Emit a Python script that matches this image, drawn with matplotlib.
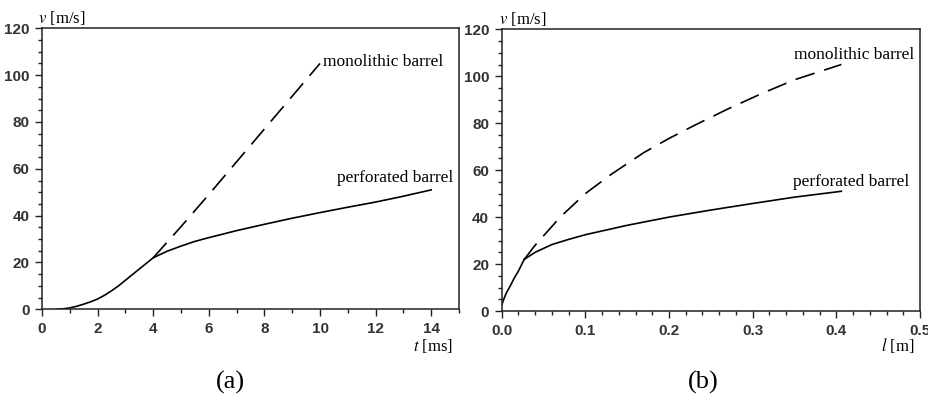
import matplotlib
matplotlib.use("Agg")
import matplotlib.pyplot as plt
from matplotlib.ticker import MultipleLocator, FormatStrFormatter

plt.rcParams["mathtext.fontset"] = "stix"

# ---- data ----
# (a) velocity vs time
t_common = [0.5, 0.75, 1.0, 1.25, 1.5, 1.75, 2.0, 2.25, 2.5, 2.75, 3.0, 3.25, 3.5, 3.75, 4.0]
v_common = [0.0, 0.2, 0.6, 1.3, 2.2, 3.2, 4.4, 6.0, 7.9, 10.0, 12.4, 14.8, 17.2, 19.6, 22.0]
t_mono = [4.0, 5.0, 6.0, 7.0, 8.0, 9.0, 10.0]
v_mono = [22.0, 35.3, 49.0, 63.0, 77.0, 91.0, 105.0]
t_perf = [4.0, 4.5, 5.0, 5.5, 6.0, 7.0, 8.0, 9.0, 10.0, 11.0, 12.0, 13.0, 14.0]
v_perf = [22.0, 24.8, 27.0, 29.0, 30.6, 33.6, 36.3, 38.9, 41.3, 43.6, 45.8, 48.3, 51.0]

# (b) velocity vs travel
l_common = [0.0, 0.003, 0.006, 0.01, 0.015, 0.02, 0.027]
w_common = [2.5, 5.5, 8.0, 10.5, 14.0, 17.0, 22.0]
l_mono = [0.027, 0.04, 0.05, 0.07, 0.1, 0.13, 0.17, 0.2, 0.23, 0.27, 0.31, 0.35, 0.406]
w_mono = [22.0, 28.0, 32.0, 40.0, 50.0, 58.0, 67.5, 73.5, 79.0, 86.0, 92.5, 98.5, 105.0]
l_perf = [0.027, 0.04, 0.06, 0.08, 0.1, 0.15, 0.2, 0.25, 0.3, 0.35, 0.406]
w_perf = [22.0, 25.0, 28.3, 30.5, 32.5, 36.5, 40.0, 43.0, 45.8, 48.5, 51.0]

TICK_FONT = "Liberation Sans"
SERIF = "Liberation Serif"

fig = plt.figure(figsize=(9.29, 3.97), dpi=100)
axa = fig.add_axes([0.0452, 0.2209, 0.4489, 0.7078])
axb = fig.add_axes([0.5400, 0.2166, 0.4503, 0.7096])

lw = 1.2
dash = (12, 6)

def style(ax):
    for s in ax.spines.values():
        s.set_linewidth(1.1)
        s.set_color("#222222")
    ax.tick_params(which="major", direction="out", length=5, width=1.0,
                   labelsize=11, pad=4, colors="#222222")
    ax.tick_params(which="minor", direction="out", length=3, width=1.0,
                   colors="#222222")
    for lab in ax.get_xticklabels() + ax.get_yticklabels():
        lab.set_fontfamily(TICK_FONT)
        lab.set_fontweight("bold")
        lab.set_color("#333333")
    ax.set_ylim(0, 120)
    ax.yaxis.set_major_locator(MultipleLocator(20))
    ax.yaxis.set_minor_locator(MultipleLocator(5))

# (a)
axa.plot(t_common, v_common, color="black", lw=lw)
axa.plot(t_mono, v_mono, color="black", lw=lw, dashes=dash)
axa.plot(t_perf, v_perf, color="black", lw=lw)
axa.set_xlim(0, 15)
axa.xaxis.set_major_locator(MultipleLocator(2))
axa.xaxis.set_minor_locator(MultipleLocator(1))
style(axa)
axa.text(-0.01, 1.003, r"$v$ [m/s]", transform=axa.transAxes, ha="left", va="bottom",
         fontsize=12, family=SERIF)
axa.text(0.9856, -0.131, r"$t$ [ms]", transform=axa.transAxes, ha="right", va="center",
         fontsize=12, family=SERIF)
axa.text(10.1, 105.6, "monolithic barrel", fontsize=12.5, family=SERIF, ha="left", va="center")
axa.text(10.6, 56, "perforated barrel", fontsize=12.5, family=SERIF, ha="left", va="center")
axa.text(0.451, -0.262, "(a)", transform=axa.transAxes, ha="center", va="center",
         fontsize=19, family=SERIF)

# (b)
axb.plot(l_common, w_common, color="black", lw=lw)
axb.plot(l_mono, w_mono, color="black", lw=lw, dashes=dash)
axb.plot(l_perf, w_perf, color="black", lw=lw)
axb.set_xlim(0, 0.5)
axb.xaxis.set_major_locator(MultipleLocator(0.1))
axb.xaxis.set_minor_locator(MultipleLocator(0.02))
axb.xaxis.set_major_formatter(FormatStrFormatter("%.1f"))
style(axb)
axb.text(-0.007, 1.003, r"$v$ [m/s]", transform=axb.transAxes, ha="left", va="bottom",
         fontsize=12, family=SERIF)
axb.text(0.988, -0.124, r"$l$ [m]", transform=axb.transAxes, ha="right", va="center",
         fontsize=12, family=SERIF)
axb.text(0.349, 109, "monolithic barrel", fontsize=12.5, family=SERIF, ha="left", va="center")
axb.text(0.348, 55, "perforated barrel", fontsize=12.5, family=SERIF, ha="left", va="center")
axb.text(0.481, -0.255, "(b)", transform=axb.transAxes, ha="center", va="center",
         fontsize=19, family=SERIF)

fig.savefig("out.png", dpi=100)
